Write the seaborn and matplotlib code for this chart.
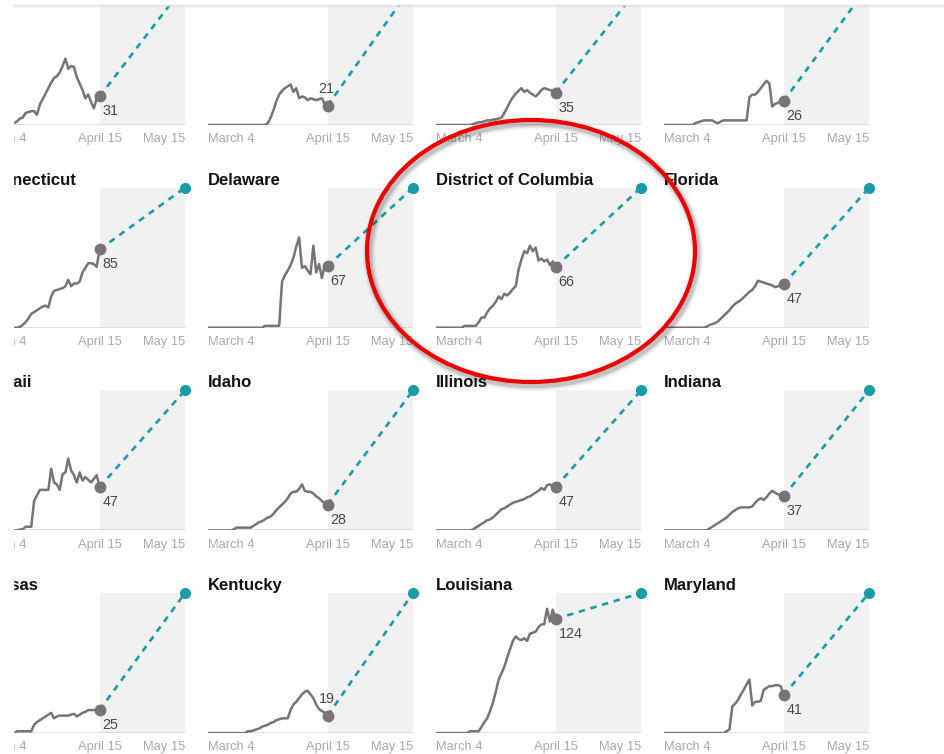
import matplotlib.pyplot as plt
import matplotlib.transforms as mtransforms
import seaborn as sns
from matplotlib.lines import Line2D
from matplotlib.patches import Ellipse, Rectangle

sns.set_style("white")
plt.rcParams['font.family'] = ['Liberation Sans', 'DejaVu Sans']

# daily values, March 4 (day 0) .. April 15 (day 42)
days = list(range(43))
tick_days = [0, 42, 72]
tick_labels = ["March 4", "April 15", "May 15"]
target = 152  # level reached by May 15

# top row: panel titles are cut off in the screenshot
top_row_1 = [0, 0, 0, 0, 0, 0, 0, 1, 1, 1, 2, 2,
             2, 4, 7, 8, 13, 14, 15, 15, 11, 22, 28, 34, 40, 46, 51, 53, 57, 64, 72,
             61, 64, 63, 52, 45, 38, 29, 33, 25, 18, 29, 31]
top_row_2 = [0] * 21 + [2, 8, 16, 26, 33, 37, 40, 42, 44, 36, 40, 29, 31, 30, 27,
                        29, 28, 27, 28, 29, 23, 21]
top_row_3 = [0] * 13 + [1, 2, 3, 3, 4, 5, 5, 6, 6, 7, 8, 13, 19, 25, 30, 34, 37, 40,
                        36, 38, 35, 33, 31, 34, 38, 40, 39, 38, 37, 35]
top_row_4 = [0] * 11 + [2, 3, 4, 5, 5, 5, 5, 3, 2, 4, 5, 5, 5, 5, 5, 5, 5, 5, 5,
                        30, 33, 33, 36, 40, 44, 48, 45, 20, 23, 24, 26, 26]
connecticut = [0] * 14 + [1, 3, 6, 10, 15, 17, 19, 21, 23, 24, 22, 34, 40, 41, 42,
                          43, 45, 52, 45, 48, 48, 50, 60, 65, 70, 70, 69, 66, 85]
delaware = [0] * 20 + [2, 2, 2, 2, 2, 2, 50, 57, 62, 68, 76, 88, 98, 65, 67, 62,
                       58, 89, 60, 69, 54, 68, 67]
dc = [0] * 10 + [2, 2, 2, 2, 2, 6, 11, 11, 17, 21, 24, 28, 34, 31, 37, 35, 38, 42,
                 45, 63, 74, 83, 81, 89, 83, 87, 73, 75, 72, 74, 68, 72, 66]
florida = [0] * 15 + [1, 3, 4, 5, 7, 10, 13, 16, 19, 23, 26, 28, 30, 33, 36, 39, 41,
                      45, 51, 50, 49, 48, 47, 46, 44, 45, 46, 47]
hawaii = [0] * 14 + [1, 1, 4, 4, 4, 32, 38, 44, 44, 44, 44, 67, 52, 50, 44, 61, 63,
                     78, 65, 60, 52, 63, 54, 58, 55, 52, 56, 60, 47]
idaho = [0] * 9 + [1, 3, 3, 3, 3, 3, 3, 5, 7, 9, 10, 12, 14, 15, 18, 22, 25, 28, 31,
                   35, 40, 42, 42, 45, 50, 43, 42, 42, 40, 37, 35, 32, 29, 28]
illinois = [0] * 13 + [1, 3, 5, 7, 9, 11, 12, 14, 17, 20, 23, 24, 26, 28, 30, 31, 32,
                       33, 34, 36, 37, 39, 41, 43, 46, 44, 49, 50, 48, 47]
indiana = [0] * 16 + [2, 4, 6, 8, 10, 12, 14, 17, 20, 22, 24, 25, 25, 25, 25, 26,
                      30, 33, 35, 33, 36, 40, 43, 41, 39, 39, 37]
kansas = [0] * 13 + [2, 2, 2, 2, 2, 2, 9, 12, 14, 16, 18, 20, 22, 16, 18, 19, 19,
                     19, 19, 20, 21, 18, 20, 22, 23, 25, 25, 25, 25, 25]
kentucky = [0] * 14 + [2, 2, 3, 4, 5, 7, 8, 9, 11, 12, 14, 15, 16, 16, 16, 25, 31,
                       34, 38, 42, 45, 46, 42, 38, 31, 26, 24, 22, 19]
louisiana = [0] * 12 + [2, 2, 2, 2, 7, 12, 16, 24, 33, 45, 58, 65, 72, 82, 91, 100,
                        105, 102, 101, 103, 100, 108, 109, 110, 115, 118, 118, 135,
                        121, 134, 124]
maryland = [0] * 22 + [2, 4, 29, 32, 36, 42, 47, 53, 58, 30, 34, 34, 35, 47, 49,
                       51, 51, 52, 52, 51, 41]

titles = [None, None, None, None,
          "Connecticut", "Delaware", "District of Columbia", "Florida",
          "Hawaii", "Idaho", "Illinois", "Indiana",
          "Kansas", "Kentucky", "Louisiana", "Maryland"]
series = [top_row_1, top_row_2, top_row_3, top_row_4,
          connecticut, delaware, dc, florida,
          hawaii, idaho, illinois, indiana,
          kansas, kentucky, louisiana, maryland]
label_above = {1, 13}

GRAY = '#7a7179'
TEAL = '#1a9ba6'
W, H = 945, 754

fig = plt.figure(figsize=(W / 100, H / 100), dpi=100)

for i, (name, vals) in enumerate(zip(titles, series)):
    r, c = divmod(i, 4)
    left = -20 + 228 * c
    base = 125 + 202.7 * r
    ax = fig.add_axes([left / W, 1 - base / H, 205 / W, 140 / H])
    ax.set_xlim(0, 72)
    ax.set_ylim(0, target)
    ax.axvspan(42, 72, color='#f1f1f1', lw=0, zorder=0)
    ax.axhline(0, color='#d9d9d9', lw=1.2, zorder=1)

    sns.lineplot(x=days, y=vals, ax=ax, color=GRAY, linewidth=1.8, zorder=3)
    last = vals[-1]
    ax.plot([42, 72], [last, target], color=TEAL, lw=1.9,
            ls=(0, (2.4, 2.2)), zorder=2, clip_on=False)
    ax.plot([42], [last], 'o', ms=7.5, color=GRAY, zorder=4, clip_on=False)
    ax.plot([72], [target], 'o', ms=7, color=TEAL, zorder=4, clip_on=False)

    if i in label_above:
        ax.annotate(f"{last}", (42, last), xytext=(-1, 13), textcoords='offset pixels',
                    ha='center', va='baseline', fontsize=10.3, color='#4a464c')
    else:
        ax.annotate(f"{last}", (42, last), xytext=(3, -8), textcoords='offset pixels',
                    ha='left', va='top', fontsize=10.3, color='#4a464c')

    if name:
        ax.annotate(name, (0, 1), xycoords='axes fraction', xytext=(0, 3),
                    textcoords='offset pixels', ha='left', va='baseline',
                    fontsize=12, fontweight='bold', color='#121212',
                    annotation_clip=False)

    ax.set_xticks(tick_days, tick_labels)
    for lbl, ha in zip(ax.get_xticklabels(), ['left', 'center', 'right']):
        lbl.set_horizontalalignment(ha)
    ax.set_yticks([])
    ax.tick_params(axis='x', length=0, pad=6, labelsize=9.3, labelcolor='#a9a9a9')
    sns.despine(ax=ax, left=True, bottom=True)

# screenshot edges: white strip on the left, header line on top
fig.add_artist(Rectangle((0, 0), 13 / W, 1, transform=fig.transFigure,
                         color='white', zorder=20))
fig.add_artist(Rectangle((0, 1 - 4 / H), 1, 4 / H, transform=fig.transFigure,
                         color='white', zorder=20))
for dy, a in [(4.5, 0.8), (5.5, 0.35), (6.5, 0.15)]:
    fig.add_artist(Line2D([13 / W, 1], [1 - dy / H] * 2, transform=fig.transFigure,
                          color='#e0e0e0', alpha=a, lw=1, zorder=21))

# red highlight ellipse with soft shadow
cx, cy = 531 / W, 1 - 251 / H
ew, eh = 328 / W, 262 / H
shift = fig.transFigure + mtransforms.ScaledTranslation(2 / 100, -3 / 100, fig.dpi_scale_trans)
for lw, a in [(9, 0.05), (6.5, 0.08), (4.5, 0.12)]:
    fig.add_artist(Ellipse((cx, cy), ew, eh, transform=shift, fill=False,
                           ec='black', alpha=a, lw=lw, zorder=30))
fig.add_artist(Ellipse((cx, cy), ew, eh, transform=fig.transFigure, fill=False,
                       ec='#ef0000', lw=3, zorder=31))

fig.savefig('out.png', dpi=100)
